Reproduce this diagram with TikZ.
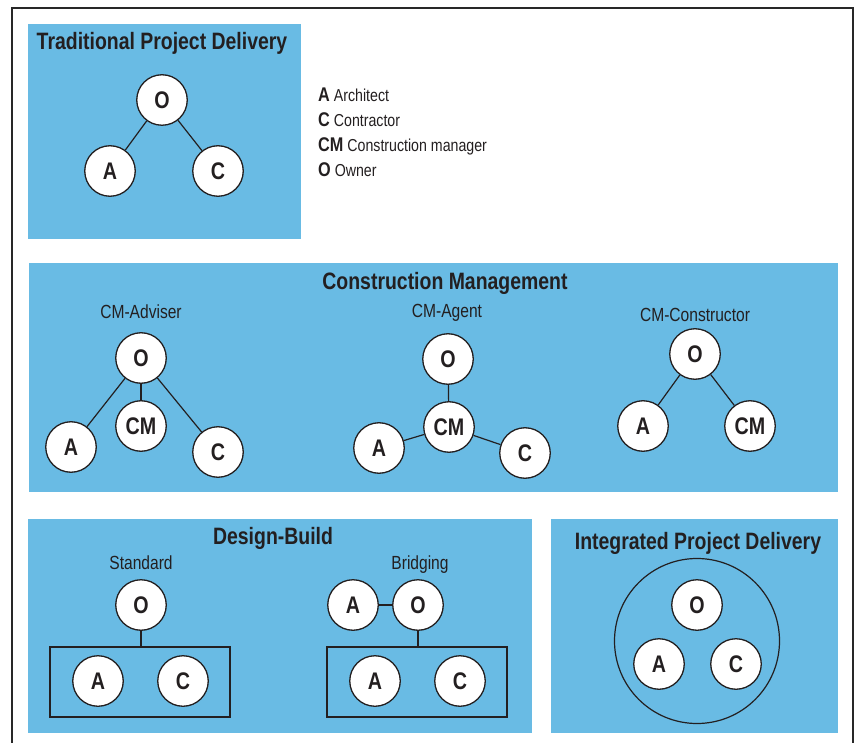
\documentclass[tikz,border=0pt]{standalone}
\usepackage{fontspec}
\setmainfont{Liberation Sans}[FakeStretch=0.82]
\definecolor{panelblue}{RGB}{105,187,228}
\definecolor{ink}{RGB}{35,31,32}
\definecolor{frame}{RGB}{40,40,40}
\tikzset{
  panel/.style={fill=panelblue},
  party/.style={circle, draw=ink, line width=1.3pt, fill=white, minimum size=50.5pt, inner sep=0pt, text=ink,
    font=\fontsize{24}{26}\selectfont\bfseries},
  link/.style={draw=ink, line width=1.2pt},
  groupbox/.style={draw=ink, line width=1.2pt, minimum width=180pt, minimum height=70pt, inner sep=0pt},
  ring/.style={circle, draw=ink, line width=1.2pt, minimum size=165pt, inner sep=0pt},
  ptitle/.style={anchor=base, text=ink, inner sep=0pt, font=\fontsize{23.7}{28}\selectfont\bfseries},
  subtitle/.style={anchor=base, text=ink, inner sep=0pt, font=\fontsize{19}{22}\selectfont},
  legend/.style={anchor=base west, text=ink, inner sep=0pt, font=\fontsize{17.3}{20}\selectfont},
}
\newcommand{\legkey}[1]{{\fontsize{19.8}{22}\selectfont\bfseries #1}}
\begin{document}
\begin{tikzpicture}[x=1pt, y=-1pt]
\useasboundingbox (0,0) rectangle (854,743);
% outer frame
\draw[frame, line width=1.5pt] (12,743) -- (12,8) -- (853,8) -- (853,743);
% panels
\fill[panel] (28,24) rectangle (301,239);
\fill[panel] (29,263) rectangle (838,492);
\fill[panel] (28,519) rectangle (532,733);
\fill[panel] (551,519) rectangle (838,733);

% Traditional Project Delivery
\node[ptitle] (t1) at (162,50) {Traditional Project Delivery};
\node[party] (tO) at (162,100) {O};
\node[party] (tA) at (110,171) {A};
\node[party] (tC) at (218,171) {C};
\draw[link] (tO) -- (tA);
\draw[link] (tO) -- (tC);

% Legend
\node[legend] (l1) at (318,102) {\legkey{A} Architect};
\node[legend] (l2) at (318,127) {\legkey{C} Contractor};
\node[legend] (l3) at (318,152) {\legkey{CM} Construction manager};
\node[legend] (l4) at (318,177) {\legkey{O} Owner};

% Construction Management
\node[ptitle] (t2) at (445,290) {Construction Management};
% CM-Adviser
\node[subtitle] (s1) at (141,319) {CM-Adviser};
\node[party] (aO) at (141,358) {O};
\node[party] (aCM) at (141,426) {CM};
\node[party] (aA) at (71,447) {A};
\node[party] (aC) at (218,452) {C};
\draw[link] (aO) -- (aCM);
\draw[link] (aO) -- (aA);
\draw[link] (aO) -- (aC);
% CM-Agent
\node[subtitle] (s2) at (447,318) {CM-Agent};
\node[party] (gO) at (448,359) {O};
\node[party] (gCM) at (449,427) {CM};
\node[party] (gA) at (379,448) {A};
\node[party] (gC) at (525,453) {C};
\draw[link] (gO) -- (gCM);
\draw[link] (gCM) -- (gA);
\draw[link] (gCM) -- (gC);
% CM-Constructor
\node[subtitle] (s3) at (695,321) {CM-Constructor};
\node[party] (cO) at (695,354) {O};
\node[party] (cA) at (643,426) {A};
\node[party] (cCM) at (750,426) {CM};
\draw[link] (cO) -- (cA);
\draw[link] (cO) -- (cCM);

% Design-Build
\node[ptitle] (t3) at (273,544) {Design-Build};
% Standard
\node[subtitle] (s4) at (141,569) {Standard};
\node[party] (dO) at (141,605) {O};
\node[groupbox] (dBox) at (140,682) {};
\node[party] (dA) at (98,681) {A};
\node[party] (dC) at (183,681) {C};
\draw[link] (dO) -- (dO |- dBox.north);
% Bridging
\node[subtitle] (s5) at (420,569) {Bridging};
\node[party] (bA) at (353,605) {A};
\node[party] (bO) at (418,605) {O};
\node[groupbox] (bBox) at (417,682) {};
\node[party] (bA2) at (375,681) {A};
\node[party] (bC) at (460,681) {C};
\draw[link] (bA) -- (bO);
\draw[link] (bO) -- (bO |- bBox.north);

% Integrated Project Delivery
\node[ptitle] (t4) at (698,549) {Integrated Project Delivery};
\node[ring] (iRing) at (697,641) {};
\node[party] (iO) at (697,605) {O};
\node[party] (iA) at (659,664) {A};
\node[party] (iC) at (736,664) {C};
\end{tikzpicture}
\end{document}
